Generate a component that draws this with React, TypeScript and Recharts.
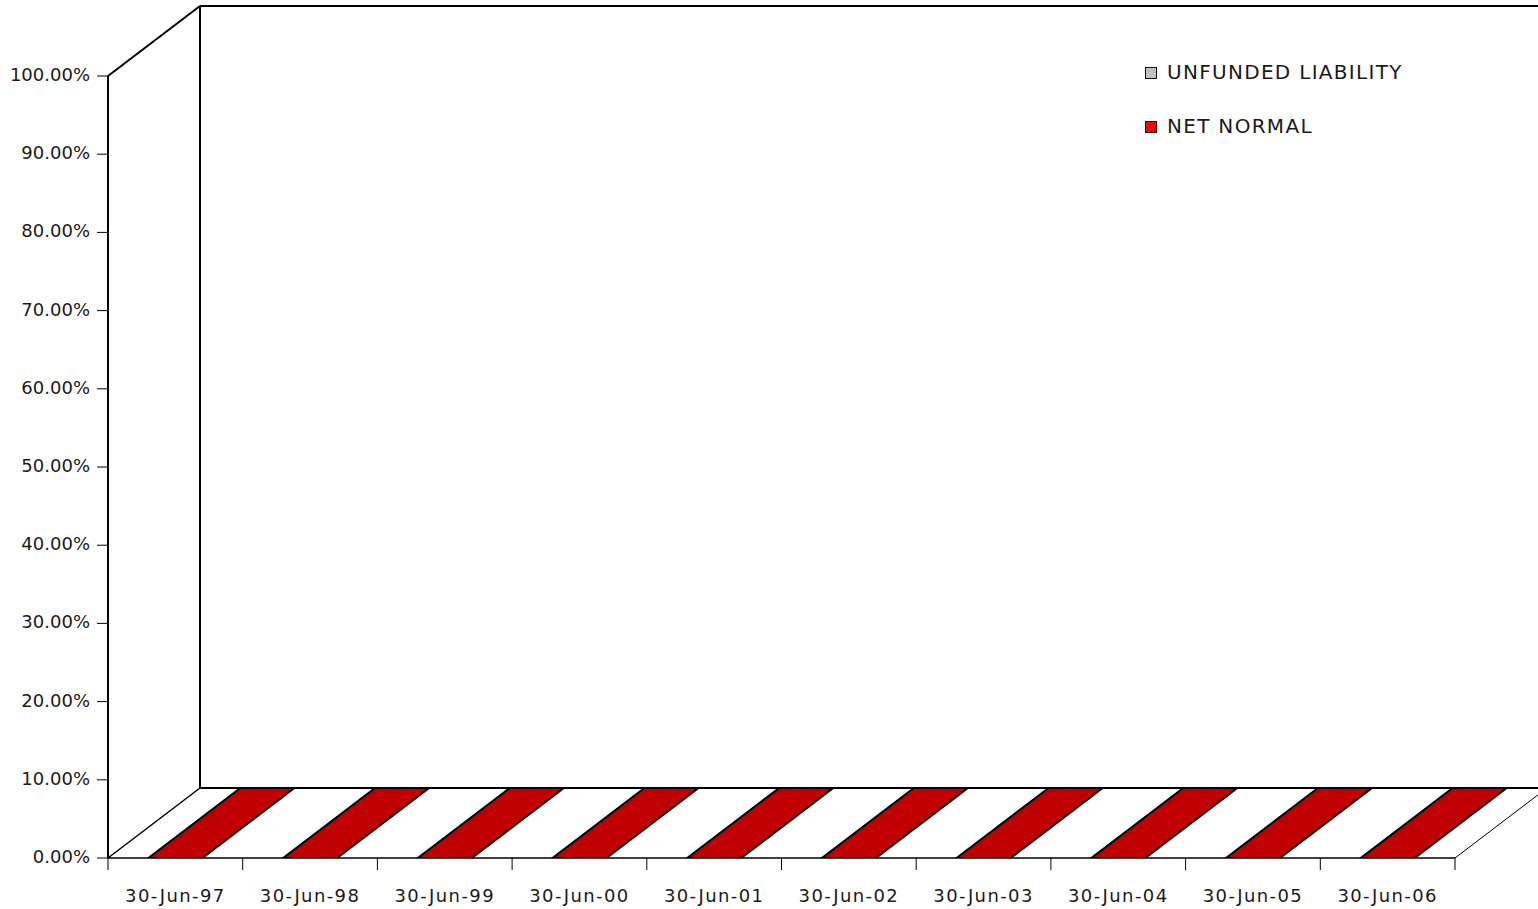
import React from 'react';
import * as R from 'recharts';
import { BarChart, Bar, XAxis, YAxis, Legend } from 'recharts';

// ---------- data ----------
const DATES = ['30-Jun-97', '30-Jun-98', '30-Jun-99', '30-Jun-00', '30-Jun-01', '30-Jun-02', '30-Jun-03', '30-Jun-04', '30-Jun-05', '30-Jun-06'];
const NET_NORMAL = [0, 0, 0, 0, 0, 0, 0, 0, 0, 0];
const UNFUNDED_LIABILITY = [0, 0, 0, 0, 0, 0, 0, 0, 0, 0];
const Y_TICKS = [0, 0.1, 0.2, 0.3, 0.4, 0.5, 0.6, 0.7, 0.8, 0.9, 1];
const LEGEND_ORDER = ['UNFUNDED LIABILITY', 'NET NORMAL'];

const SERIES = [
  { key: 'netNormal', name: 'NET NORMAL', color: '#FF0000', faceColor: '#C00000', base: true },
  { key: 'unfunded', name: 'UNFUNDED LIABILITY', color: '#C0C0C0', faceColor: '#A0A0A0', base: false },
];

const data = DATES.map((d, i) => ({ date: d, netNormal: NET_NORMAL[i], unfunded: UNFUNDED_LIABILITY[i] }));

// ---------- layout ----------
const W = 1538;
const H = 909;
const MARGIN = { top: 76, right: 83, bottom: 0, left: 0 };
const Y_AXIS_W = 108;
const X_AXIS_H = 51;
const PLOT_W = W - MARGIN.left - MARGIN.right - Y_AXIS_W;
const PLOT_H = H - MARGIN.top - MARGIN.bottom - X_AXIS_H;
const DEPTH_X = 92;
const DEPTH_Y = 70;
const N = DATES.length;

const FONT = '"DejaVu Sans", sans-serif';
const TEXT = '#1a1a1a';

const fmtPct = (v: number) => `${(v * 100).toFixed(2)}%`;

const XTick = (props: any) => {
  const { x, y, payload, index } = props;
  const half = payload && typeof payload.offset === 'number' && payload.offset > 0 ? payload.offset : PLOT_W / N / 2;
  const i = typeof index === 'number' ? index : DATES.indexOf(payload.value);
  return (
    <g>
      <line x1={x - half} y1={y} x2={x - half} y2={y + 12} stroke="#000" strokeWidth={1} />
      {i === N - 1 && <line x1={x + half} y1={y} x2={x + half} y2={y + 12} stroke="#000" strokeWidth={1} />}
      <text x={x} y={y + 44} textAnchor="middle" fontFamily={FONT} fontSize={18} letterSpacing={1.4} fill={TEXT}>
        {payload.value}
      </text>
    </g>
  );
};

const YTick = (props: any) => {
  const { x, y, payload } = props;
  return (
    <text x={x} y={y + 5} textAnchor="end" fontFamily={FONT} fontSize={18} fill={TEXT}>
      {fmtPct(payload.value)}
    </text>
  );
};

const makeShape = (faceColor: string, fill: string, base: boolean) => (props: any) => {
  const { x, y, width, height } = props;
  if (x == null || y == null || !width) return null;
  const h = Math.max(0, height || 0);
  if (h <= 0 && !base) return null;
  const top = `${x},${y} ${x + width},${y} ${x + width + DEPTH_X},${y - DEPTH_Y} ${x + DEPTH_X},${y - DEPTH_Y}`;
  const side = `${x + width},${y} ${x + width + DEPTH_X},${y - DEPTH_Y} ${x + width + DEPTH_X},${y + h - DEPTH_Y} ${x + width},${y + h}`;
  return (
    <g>
      {h > 0 && <rect x={x} y={y} width={width} height={h} fill={fill} stroke="#000" strokeWidth={1.5} />}
      {h > 0 && <polygon points={side} fill={faceColor} stroke="#000" strokeWidth={1.5} />}
      <polygon points={top} fill={faceColor} stroke="#000" strokeWidth={2} />
    </g>
  );
};

const usePlot = (R as any).usePlotArea as undefined | (() => any);

const Frame = () => {
  const area = usePlot ? usePlot() : undefined;
  const a = area && typeof area.x === 'number' ? area : { x: MARGIN.left + Y_AXIS_W, y: MARGIN.top, width: PLOT_W, height: PLOT_H };
  const x0 = a.x;
  const y0 = a.y;
  const x1 = a.x + a.width;
  const y1 = a.y + a.height;
  const bx = x0 + DEPTH_X;
  const by0 = y0 - DEPTH_Y;
  const by1 = y1 - DEPTH_Y;
  return (
    <g stroke="#000" fill="none">
      <line x1={x0} y1={y0} x2={bx} y2={by0} strokeWidth={2} />
      <line x1={x0} y1={y1} x2={bx} y2={by1} strokeWidth={1.5} />
      <line x1={bx} y1={by0} x2={bx} y2={by1} strokeWidth={2} />
      <line x1={bx} y1={by0} x2={x1 + DEPTH_X} y2={by0} strokeWidth={2} />
      <line x1={bx} y1={by1} x2={x1 + DEPTH_X} y2={by1} strokeWidth={2} />
      <line x1={x1} y1={y1} x2={x1 + DEPTH_X} y2={by1} strokeWidth={1} />
    </g>
  );
};

const renderLegend = () => (
  <div style={{ position: 'relative', width: 380, height: 140, fontFamily: FONT }}>
    {LEGEND_ORDER.map((name, i) => {
      const s = SERIES.find((q) => q.name === name)!;
      return (
        <div
          key={name}
          style={{ position: 'absolute', left: 0, top: i * 54, height: 21, display: 'flex', alignItems: 'center', whiteSpace: 'nowrap' }}
        >
          <span
            style={{ display: 'inline-block', width: 12, height: 12, boxSizing: 'border-box', border: '1.5px solid #111', background: s.color, marginRight: 10 }}
          />
          <span style={{ fontSize: 20, letterSpacing: 1.3, color: TEXT, lineHeight: '21px' }}>{name}</span>
        </div>
      );
    })}
  </div>
);

export default function App() {
  return (
    <div style={{ position: 'absolute', left: 0, top: 0, width: W, height: H, background: '#fff', fontFamily: FONT }}>
      <BarChart width={W} height={H} data={data} margin={MARGIN} barCategoryGap="30%">
        <XAxis
          dataKey="date"
          type="category"
          interval={0}
          tick={<XTick />}
          tickLine={false}
          tickSize={0}
          tickMargin={0}
          height={X_AXIS_H}
          axisLine={{ stroke: '#000', strokeWidth: 1.5 }}
        />
        <YAxis
          type="number"
          domain={[0, 1]}
          allowDataOverflow
          ticks={Y_TICKS}
          interval={0}
          width={Y_AXIS_W}
          tick={<YTick />}
          tickSize={11}
          tickMargin={7}
          tickLine={{ stroke: '#000', strokeWidth: 1 }}
          axisLine={{ stroke: '#000', strokeWidth: 2 }}
        />
        <Frame />
        {SERIES.map((s) => (
          <Bar
            key={s.key}
            dataKey={s.key}
            name={s.name}
            stackId="a"
            fill={s.color}
            legendType="square"
            isAnimationActive={false}
            shape={makeShape(s.faceColor, s.color, s.base)}
          />
        ))}
        <Legend
          layout="horizontal"
          verticalAlign="middle"
          align="center"
          content={renderLegend}
          wrapperStyle={{ position: 'absolute', left: 1145, top: 62, width: 380, height: 140 }}
        />
      </BarChart>
    </div>
  );
}
